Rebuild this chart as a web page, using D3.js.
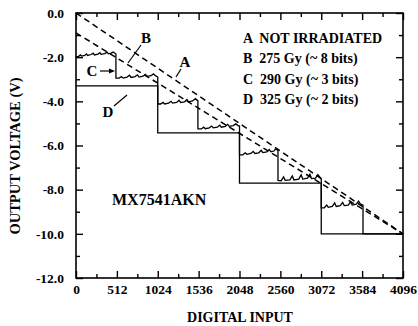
<!DOCTYPE html>
<html>
<head>
<meta charset="utf-8">
<script src="https://cdn.jsdelivr.net/npm/d3@7"></script>
<style>
  body { margin: 0; background: #fff; }
  svg { font-family: "Liberation Serif", "Times New Roman", serif; font-weight: bold; }
  .axis path { display: none; }
  .axis line { stroke: #000; stroke-width: 1.4; }
  .axis text { font-size: 13.5px; fill: #000; font-family: "Liberation Serif", serif; font-weight: bold; }
</style>
</head>
<body>
<svg id="chart" width="418" height="326"></svg>
<script>
// tick values
const xTicks = [0, 512, 1024, 1536, 2048, 2560, 3072, 3584, 4096];
const xMinor = [256, 768, 1280, 1792, 2304, 2816, 3328, 3840];
const yTicks = [0, -2, -4, -6, -8, -10, -12];
const yMinor = [-1, -3, -5, -7, -9, -11];

// A: not irradiated (ideal ramp)
const lineA = [[0, 0], [4096, -10]];
// B: 275 Gy
const lineB = [[0, -0.9], [4096, -10]];
// C: 290 Gy, 3-bit staircase with ripple
const lineC = [
  [0, -1.98], [30, -1.97], [55, -1.9], [70, -1.95], [110, -1.92], [130, -1.85], [145, -1.92],
  [190, -1.88], [215, -1.82], [230, -1.9], [275, -1.86], [300, -1.8], [315, -1.87],
  [360, -1.84], [390, -1.77], [405, -1.85], [440, -1.82], [465, -1.77], [500, -1.86],
  [500, -2.95], [540, -2.95], [570, -2.88], [590, -2.95], [640, -2.9], [670, -2.82], [690, -2.92],
  [740, -2.88], [770, -2.8], [790, -2.9], [840, -2.86], [870, -2.78], [890, -2.87],
  [940, -2.84], [970, -2.76], [1000, -2.85], [1024, -2.9],
  [1024, -4.12], [1060, -4.12], [1090, -4.05], [1110, -4.12], [1160, -4.08], [1190, -4.0], [1210, -4.08],
  [1260, -4.05], [1290, -3.95], [1310, -4.05], [1360, -4.02], [1390, -3.92], [1410, -4.02],
  [1460, -3.98], [1495, -3.88], [1527, -3.98],
  [1527, -5.25], [1570, -5.25], [1600, -5.17], [1620, -5.24], [1670, -5.2], [1700, -5.12], [1720, -5.2],
  [1770, -5.17], [1800, -5.08], [1820, -5.17], [1870, -5.13], [1900, -5.04], [1920, -5.13],
  [1970, -5.1], [2000, -5.02], [2030, -5.1], [2048, -5.12],
  [2048, -6.42], [2090, -6.42], [2120, -6.33], [2140, -6.4], [2190, -6.36], [2220, -6.27], [2240, -6.36],
  [2290, -6.33], [2320, -6.22], [2340, -6.32], [2390, -6.29], [2420, -6.18], [2440, -6.28],
  [2480, -6.25], [2505, -6.14], [2530, -6.24],
  [2530, -7.58], [2570, -7.6], [2600, -7.42], [2620, -7.58], [2680, -7.56], [2710, -7.38], [2730, -7.56],
  [2790, -7.52], [2820, -7.33], [2840, -7.52], [2900, -7.48], [2930, -7.3], [2950, -7.5],
  [3000, -7.48], [3030, -7.32], [3072, -7.52],
  [3072, -8.82], [3110, -8.82], [3140, -8.7], [3160, -8.8], [3210, -8.76], [3240, -8.6], [3260, -8.76],
  [3310, -8.72], [3340, -8.58], [3360, -8.72], [3410, -8.7], [3440, -8.55], [3460, -8.7],
  [3510, -8.66], [3540, -8.52], [3560, -8.64], [3595, -8.7],
  [3595, -10], [4096, -10]
];
// D: 325 Gy, 2-bit staircase
const lineD = [
  [0, -3.3], [1024, -3.3], [1024, -5.43], [2048, -5.43],
  [2048, -7.7], [3072, -7.7], [3072, -10], [4096, -10]
];

const legendLines = [
  "A  NOT IRRADIATED",
  "B  275 Gy (~ 8 bits)",
  "C  290 Gy (~ 3 bits)",
  "D  325 Gy (~ 2 bits)"
];

const svg = d3.select("#chart");
const mLeft = 76, mRight = 403, mTop = 13, mBottom = 278;

const x = d3.scaleLinear().domain([0, 4096]).range([mLeft, mRight]);
const y = d3.scaleLinear().domain([0, -12]).range([mTop, mBottom]);

// frame
svg.append("rect")
  .attr("x", mLeft).attr("y", mTop)
  .attr("width", mRight - mLeft).attr("height", mBottom - mTop)
  .attr("fill", "none").attr("stroke", "#000").attr("stroke-width", 1.6);

// axes, ticks pointing inward
svg.append("g").attr("class", "axis")
  .attr("transform", `translate(0,${mBottom})`)
  .call(d3.axisBottom(x).tickValues(xTicks).tickSize(-7).tickPadding(6).tickFormat(d3.format("d")));
svg.append("g").attr("class", "axis")
  .attr("transform", `translate(0,${mBottom})`)
  .call(d3.axisBottom(x).tickValues(xMinor).tickSize(-4).tickFormat(""));
svg.append("g").attr("class", "axis")
  .attr("transform", `translate(0,${mTop})`)
  .call(d3.axisTop(x).tickValues(xTicks).tickSize(-7).tickFormat(""));
svg.append("g").attr("class", "axis")
  .attr("transform", `translate(0,${mTop})`)
  .call(d3.axisTop(x).tickValues(xMinor).tickSize(-4).tickFormat(""));

svg.append("g").attr("class", "axis")
  .attr("transform", `translate(${mLeft},0)`)
  .call(d3.axisLeft(y).tickValues(yTicks).tickSize(-7).tickPadding(12).tickFormat(d3.format(".1f")));
svg.append("g").attr("class", "axis")
  .attr("transform", `translate(${mLeft},0)`)
  .call(d3.axisLeft(y).tickValues(yMinor).tickSize(-4).tickFormat(""));
svg.append("g").attr("class", "axis")
  .attr("transform", `translate(${mRight},0)`)
  .call(d3.axisRight(y).tickValues(yTicks).tickSize(-7).tickFormat(""));
svg.append("g").attr("class", "axis")
  .attr("transform", `translate(${mRight},0)`)
  .call(d3.axisRight(y).tickValues(yMinor).tickSize(-4).tickFormat(""));

svg.selectAll(".axis text").text(function () { return this.textContent.replace("−", "-"); });

const line = d3.line().x(d => x(d[0])).y(d => y(d[1]));

svg.append("path").attr("d", line(lineA))
  .attr("fill", "none").attr("stroke", "#000").attr("stroke-width", 1.5).attr("stroke-dasharray", "6,4");
svg.append("path").attr("d", line(lineB))
  .attr("fill", "none").attr("stroke", "#000").attr("stroke-width", 1.5).attr("stroke-dasharray", "6,4");
svg.append("path").attr("d", line(lineC))
  .attr("fill", "none").attr("stroke", "#000").attr("stroke-width", 1.3);
svg.append("path").attr("d", line(lineD))
  .attr("fill", "none").attr("stroke", "#000").attr("stroke-width", 1.3);

// curve labels with leader lines
const lab = svg.append("g").attr("font-size", 15);
lab.append("text").attr("x", 185).attr("y", 67).attr("text-anchor", "middle").text("A");
lab.append("line").attr("x1", 181).attr("y1", 69).attr("x2", 176).attr("y2", 77)
  .attr("stroke", "#000").attr("stroke-width", 1.2);
lab.append("text").attr("x", 146).attr("y", 43).attr("text-anchor", "middle").text("B");
lab.append("line").attr("x1", 141).attr("y1", 45).attr("x2", 128).attr("y2", 63)
  .attr("stroke", "#000").attr("stroke-width", 1.2);
lab.append("text").attr("x", 92).attr("y", 76).attr("text-anchor", "middle").text("C");
lab.append("line").attr("x1", 100).attr("y1", 71).attr("x2", 111).attr("y2", 71)
  .attr("stroke", "#000").attr("stroke-width", 1.2);
lab.append("path").attr("d", "M115,71 L109,68.5 L109,73.5 Z").attr("fill", "#000");
lab.append("text").attr("x", 108).attr("y", 117).attr("text-anchor", "middle").text("D");
lab.append("line").attr("x1", 114).attr("y1", 106).attr("x2", 127).attr("y2", 95)
  .attr("stroke", "#000").attr("stroke-width", 1.2);

// legend
svg.append("g").selectAll("text").data(legendLines).join("text")
  .attr("x", 243).attr("y", (d, i) => 43 + i * 20.3)
  .attr("font-size", 14)
  .style("white-space", "pre")
  .text(d => d);

svg.append("text").attr("x", 112).attr("y", 205).attr("font-size", 16).text("MX7541AKN");

// axis titles
svg.append("text").attr("x", 240).attr("y", 322)
  .attr("text-anchor", "middle").attr("font-size", 14).text("DIGITAL INPUT");
svg.append("text").attr("transform", "translate(20,156) rotate(-90)")
  .attr("text-anchor", "middle").attr("font-size", 14.5).text("OUTPUT VOLTAGE (V)");
</script>
</body>
</html>
